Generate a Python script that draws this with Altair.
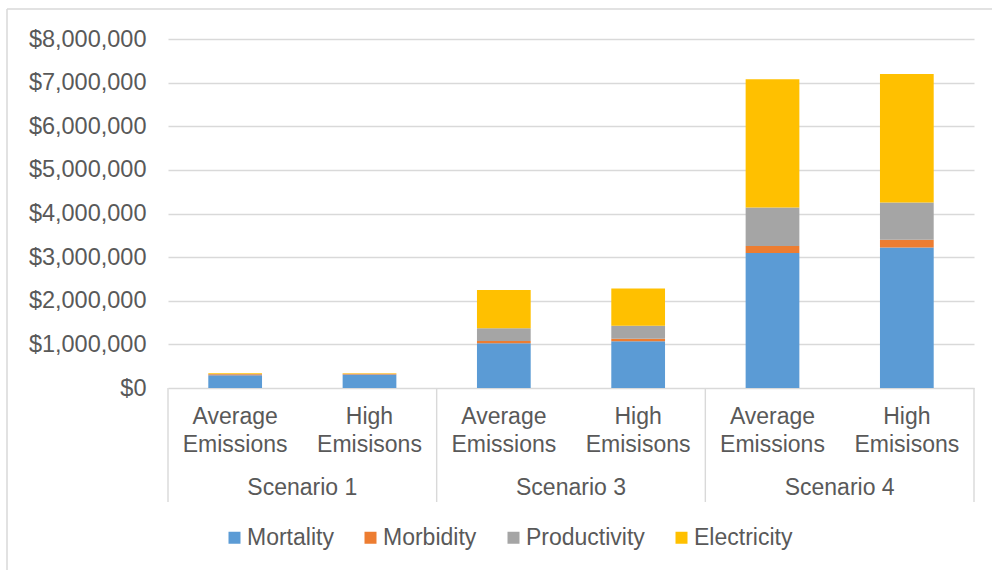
import altair as alt
import pandas as pd

# Bar categories (two-level axis: emission case within scenario)
scenarios = ["Scenario 1", "Scenario 3", "Scenario 4"]
case_line1 = ["Average", "High"]
case_line2 = ["Emissions", "Emisisons"]

# Cost components, one value per bar (left to right)
series = ["Mortality", "Morbidity", "Productivity", "Electricity"]
mortality = [290000, 312000, 1025000, 1071000, 3096000, 3218000]
morbidity = [25000, 12000, 53000, 60000, 161000, 183000]
productivity = [8000, 5000, 291000, 298000, 878000, 849000]
electricity = [15000, 8000, 879000, 849000, 2945000, 2945000]

colors = ["#5B9BD5", "#ED7D31", "#A5A5A5", "#FFC000"]
y_ticks = [0, 1000000, 2000000, 3000000, 4000000, 5000000, 6000000, 7000000, 8000000]

FONT = "Liberation Sans"
TEXT = "#595959"
LINE = "#D9D9D9"
W, H = 806, 349
Y_MAX = 8000000

# Stacked segments
values = {"Mortality": mortality, "Morbidity": morbidity,
          "Productivity": productivity, "Electricity": electricity}
rows = []
for i in range(6):
    base = 0
    for name in series:
        v = values[name][i]
        rows.append({"x0": i + 0.3, "x1": i + 0.7,
                     "series": name, "y0": base, "y1": base + v})
        base += v
seg = pd.DataFrame(rows)

labels = pd.DataFrame({
    "xc": [i + 0.5 for i in range(6)],
    "l1": [case_line1[i % 2] for i in range(6)],
    "l2": [case_line2[i % 2] for i in range(6)],
})
groups = pd.DataFrame({"xc": [1, 3, 5], "name": scenarios})
seps = pd.DataFrame({"xs": [0, 2, 4, 6]})

# Outer chart frame: top edge and left edge, in scale units
fx = -161 * 6 / W
fy = Y_MAX + 30 * Y_MAX / H
frame = pd.DataFrame({"ax": [fx, fx], "bx": [7.0, fx],
                      "ay": [fy, fy], "by": [fy, -6000000.0]})

xscale = alt.Scale(domain=[0, 6], nice=False, zero=False)
yscale = alt.Scale(domain=[0, Y_MAX], nice=False)

bars = alt.Chart(seg).mark_bar().encode(
    x=alt.X("x0:Q", scale=xscale, axis=None),
    x2="x1:Q",
    y=alt.Y("y0:Q", scale=yscale,
            axis=alt.Axis(values=y_ticks, format="$,.0f", title=None,
                          grid=True, gridColor=LINE, gridWidth=1.4,
                          domain=False, ticks=False, labelPadding=22,
                          labelFont=FONT, labelFontSize=23.5, labelColor=TEXT)),
    y2="y1:Q",
    color=alt.Color("series:N",
                    scale=alt.Scale(domain=series, range=colors),
                    legend=alt.Legend(title=None, orient="none",
                                      direction="horizontal",
                                      legendX=55, legendY=487,
                                      symbolType="square", symbolSize=144,
                                      symbolStrokeWidth=0, symbolOpacity=1,
                                      labelFont=FONT, labelFontSize=23,
                                      labelColor=TEXT, labelOffset=1,
                                      columnPadding=25, padding=0)),
)

line1 = alt.Chart(labels).mark_text(font=FONT, fontSize=23, color=TEXT,
                                    baseline="middle").encode(
    x=alt.X("xc:Q", scale=xscale, axis=None), y=alt.value(378), text="l1:N")
line2 = alt.Chart(labels).mark_text(font=FONT, fontSize=23, color=TEXT,
                                    baseline="middle").encode(
    x=alt.X("xc:Q", scale=xscale, axis=None), y=alt.value(406), text="l2:N")
group_text = alt.Chart(groups).mark_text(font=FONT, fontSize=23, color=TEXT,
                                         baseline="middle").encode(
    x=alt.X("xc:Q", scale=xscale, axis=None), y=alt.value(449), text="name:N")

separators = alt.Chart(seps).mark_rule(color=LINE, strokeWidth=1.4).encode(
    x=alt.X("xs:Q", scale=xscale, axis=None),
    y=alt.value(H), y2=alt.value(H + 114))

frame_lines = alt.Chart(frame).mark_rule(color=LINE, strokeWidth=1.5).encode(
    x=alt.X("ax:Q", scale=xscale, axis=None), x2="bx:Q",
    y=alt.Y("ay:Q", scale=yscale), y2="by:Q")

chart = alt.layer(
    separators, bars, line1, line2, group_text, frame_lines
).properties(
    width=W, height=H,
    autosize=alt.AutoSizeParams(type="none"),
    padding={"left": 168, "top": 39, "right": 18, "bottom": 182},
    background="white",
).configure_view(strokeWidth=0)

chart.save("out.html", embed_options={"renderer": "svg", "actions": False})
